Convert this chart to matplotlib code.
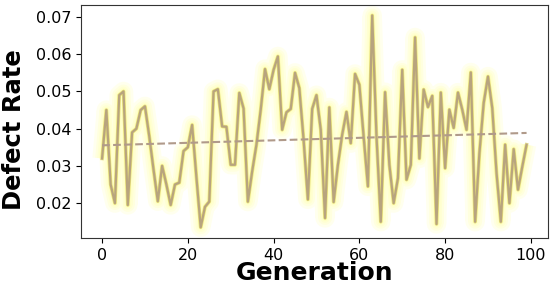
import numpy as np
import matplotlib
matplotlib.use('Agg')
import matplotlib.pyplot as plt

# Defect rate per generation
generations = np.arange(100)
defect_rate = [
    0.032, 0.045, 0.025, 0.020, 0.049, 0.050, 0.0195, 0.039, 0.040, 0.045,
    0.046, 0.038, 0.029, 0.0205, 0.030, 0.025, 0.0195, 0.025, 0.0255, 0.034,
    0.035, 0.041, 0.027, 0.0135, 0.019, 0.0204, 0.050, 0.0506, 0.0406, 0.0405,
    0.0303, 0.0303, 0.0496, 0.0454, 0.0204, 0.0285, 0.0357, 0.0451, 0.056, 0.0506,
    0.0558, 0.0594, 0.0397, 0.0444, 0.0453, 0.055, 0.0509, 0.037, 0.021, 0.0453,
    0.049, 0.0397, 0.016, 0.0457, 0.0203, 0.0303, 0.0384, 0.0445, 0.0361, 0.0547,
    0.0518, 0.0379, 0.0245, 0.0704, 0.0379, 0.015, 0.0498, 0.0303, 0.020, 0.0267,
    0.0558, 0.0263, 0.0303, 0.0645, 0.032, 0.0505, 0.0458, 0.0488, 0.0144, 0.0497,
    0.0294, 0.0451, 0.0402, 0.0497, 0.0451, 0.0397, 0.0551, 0.015, 0.0334, 0.0469,
    0.054, 0.0455, 0.028, 0.015, 0.0357, 0.020, 0.0345, 0.0236, 0.0298, 0.0357,
]

fig = plt.figure(figsize=(5.5, 2.87), dpi=100)
ax = fig.add_axes([0.147, 0.171, 0.849, 0.812])

# soft yellow glow under the line
for lw in [14, 10, 7, 4.5]:
    ax.plot(generations, defect_rate, color='#ffff60', linewidth=lw, alpha=0.1,
            solid_capstyle='butt')
ax.plot(generations, defect_rate, color='#d6c83a', linewidth=2.6, alpha=0.55)
ax.plot(generations, defect_rate, color='#b8a47e', linewidth=1.6)

# linear trend
coef = np.polyfit(generations, defect_rate, 1)
ax.plot(generations, np.polyval(coef, generations), linestyle='--',
        color='#b09a8a', linewidth=1.5)

ax.set_xlabel('Generation', fontsize=18, fontweight='bold', labelpad=-1)
ax.set_ylabel('Defect Rate', fontsize=17.5, fontweight='bold')
ax.yaxis.set_label_coords(-0.118, 0.465)
ax.set_yticks([0.02, 0.03, 0.04, 0.05, 0.06, 0.07])
ax.tick_params(labelsize=11.5)
for s in ax.spines.values():
    s.set_color('#333333')

plt.savefig('out.png', dpi=100)
